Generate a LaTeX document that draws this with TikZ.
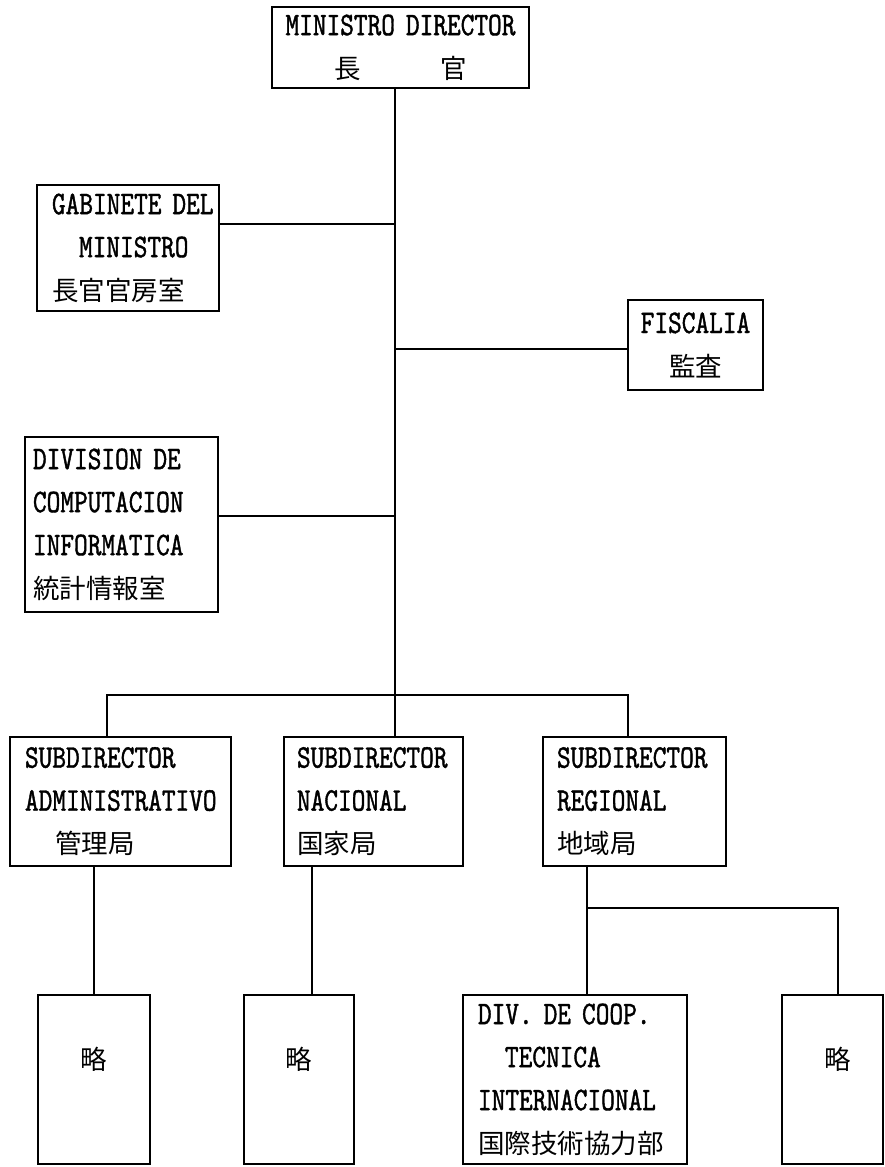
\documentclass[tikz,border=0pt]{standalone}
\usepackage{fontspec}
\newfontfamily\lat{lmmono10-regular.otf}[FakeStretch=0.79,FakeBold=1.2]
\newfontfamily\cjk{Noto Sans CJK JP}
\newcommand\jtext[1]{{\cjk\fontsize{26.5}{43}\selectfont #1}}
\begin{document}
\begin{tikzpicture}[x=1pt,y=-1pt,
  box/.style={draw, line width=1.6pt, inner ysep=0pt, font=\lat\fontsize{33}{43}\selectfont},
  emptybox/.style={draw, line width=1.6pt, inner sep=0pt},
  ln/.style={line width=1.6pt},
  lbl/.style={font=\cjk\fontsize{26.5}{30}\selectfont, inner sep=0pt}]
\useasboundingbox (0,0) rectangle (885,1167);
\fill[white] (0,0) rectangle (885,1167);

\node[box, minimum height=81pt, inner xsep=10pt, text width=237pt, align=center] (top) at (400.5,47.5)
  {MINISTRO~DIRECTOR\\\jtext{長\hspace{79pt}官}};
\node[box, minimum height=126pt, inner xsep=15pt, text width=152pt, align=left] (gab) at (128,248)
  {GABINETE~DEL\\\hspace*{27pt}MINISTRO\\\jtext{長官官房室}};
\node[box, minimum height=90pt, inner xsep=10pt, text width=115.5pt, align=center] (fis) at (695.5,345)
  {FISCALIA\\\jtext{監査}};
\node[box, minimum height=175pt, inner xsep=8pt, text width=177pt, align=left] (div) at (121.5,524.5)
  {DIVISION~DE\\COMPUTACION\\INFORMATICA\\\jtext{統計情報室}};
\node[box, minimum height=129pt, inner xsep=15pt, text width=191pt, align=left] (adm) at (120.5,801.5)
  {SUBDIRECTOR\\ADMINISTRATIVO\\\hspace*{30pt}\jtext{管理局}};
\node[box, minimum height=129pt, inner xsep=13pt, text width=153pt, align=left] (nac) at (373.5,801.5)
  {SUBDIRECTOR\\NACIONAL\\\jtext{国家局}};
\node[box, minimum height=129pt, inner xsep=14pt, text width=155pt, align=left] (reg) at (634.5,801.5)
  {SUBDIRECTOR\\REGIONAL\\\jtext{地域局}};
\node[emptybox, minimum width=112pt, minimum height=169pt, label={[lbl,yshift=20pt]center:略}] (b1) at (94,1079.5) {};
\node[emptybox, minimum width=110pt, minimum height=169pt, label={[lbl,yshift=20pt]center:略}] (b2) at (299,1079.5) {};
\node[box, minimum height=169pt, inner xsep=15pt, text width=194pt, align=left] (dc) at (575,1079.5)
  {DIV.~DE~COOP.\\\hspace*{27pt}TECNICA\\INTERNACIONAL\\\jtext{国際技術協力部}};
\node[emptybox, minimum width=101pt, minimum height=169pt, label={[lbl,yshift=20pt,xshift=5.5pt]center:略}] (b4) at (832.5,1079.5) {};

\coordinate (mx) at (395,0);
\coordinate (ax) at (107,0);
\coordinate (rx) at (628,0);
\coordinate (nx) at (312,0);
\coordinate (gx) at (587,0);
\coordinate (qx) at (838,0);
\coordinate (bus) at (0,695);
\coordinate (bus2) at (0,908);

\draw[ln] (top.south -| mx) -- (nac.north -| mx);
\draw[ln] ([yshift=24pt]gab.east) -- ([yshift=24pt]gab.east -| mx);
\draw[ln] ([yshift=-4pt]fis.west) -- ([yshift=-4pt]fis.west -| mx);
\draw[ln] ([yshift=8.5pt]div.east) -- ([yshift=8.5pt]div.east -| mx);
\draw[ln] (adm.north -| ax) -- (ax |- bus) -- (rx |- bus) -- (reg.north -| rx);
\draw[ln] (b1.north |- adm.south) -- (b1.north);
\draw[ln] (nac.south -| nx) -- (b2.north -| nx);
\draw[ln] (reg.south -| gx) -- (dc.north -| gx);
\draw[ln] (gx |- bus2) -- (qx |- bus2) -- (b4.north -| qx);
\end{tikzpicture}
\end{document}
